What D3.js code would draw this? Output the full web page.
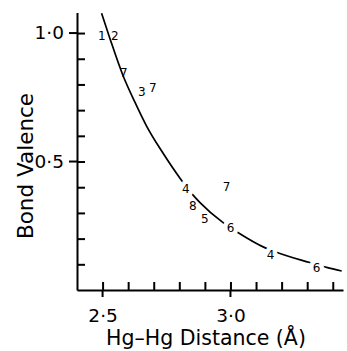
<!DOCTYPE html>
<html>
<head>
<meta charset="utf-8">
<script src="https://cdn.jsdelivr.net/npm/d3@7"></script>
<style>
  body { margin: 0; background: #fff; }
  svg { display: block; }
  text { font-family: "DejaVu Sans", "Liberation Sans", sans-serif; fill: #000; }
  .domain, .tick line, .major { stroke: #000; stroke-width: 2; }
  .curve { fill: none; stroke: #000; stroke-width: 1.7; }
  .pt { font-size: 12px; }
  .pt.cut { stroke: #fff; stroke-width: 9; paint-order: stroke; stroke-linejoin: round; }
</style>
</head>
<body>
<div id="graph"></div>
<script>
const width = 347;
const height = 351;

// curve (distance in Å, bond valence)
const curveR = [2.496, 2.528, 2.579, 2.626, 2.672, 2.736, 2.802, 2.853, 2.880, 2.970, 3.029, 3.134, 3.185, 3.310, 3.376, 3.435];
const curveS = [1.077, 0.981, 0.837, 0.732, 0.638, 0.533, 0.436, 0.370, 0.341, 0.263, 0.224, 0.165, 0.145, 0.107, 0.088, 0.074];

// numbered observations
const ptLabels = ['1', '2', '7', '3', '7', '4', '7', '8', '5', '6', '4', '6'];
const ptR = [2.497, 2.548, 2.583, 2.653, 2.696, 2.825, 2.985, 2.853, 2.900, 3.000, 3.157, 3.337];
const ptS = [0.990, 0.990, 0.845, 0.770, 0.785, 0.395, 0.400, 0.328, 0.277, 0.242, 0.137, 0.086];
const ptOnCurve = [false, false, false, false, false, true, false, false, false, true, true, true];

const xTicks = [2.5, 2.6, 2.7, 2.8, 2.9, 3.0, 3.1, 3.2, 3.3, 3.4];
const xMajor = [2.5, 3.0];
const yTicks = [0.1, 0.2, 0.3, 0.4, 0.5, 0.6, 0.7, 0.8, 0.9, 1.0];
const yMajor = [0.5, 1.0];

const x = d3.scaleLinear().domain([2.4, 3.44]).range([77, 343]);
const y = d3.scaleLinear().domain([0, 1.08]).range([290, 12.5]);

const fmt = d => xMajor.includes(d) || yMajor.includes(d) ? d3.format('.1f')(d).replace('.', '·') : '';

const svg = d3.select('#graph').append('svg').attr('width', width).attr('height', height);

// axes
svg.append('g')
  .attr('transform', translate(0, 290))
  .call(d3.axisBottom(x).tickValues(xTicks).tickSize(-8).tickSizeOuter(0).tickPadding(19).tickFormat(fmt))
  .call(g => g.selectAll('text').attr('font-size', 18.5).attr('dy', '0.71em'));

svg.append('g')
  .attr('transform', translate(77, 0))
  .call(d3.axisLeft(y).tickValues(yTicks).tickSize(-8).tickSizeOuter(0).tickPadding(13).tickFormat(fmt))
  .call(g => g.selectAll('text').attr('font-size', 18.5));

svg.selectAll('.xmaj').data(xMajor).enter().append('line')
  .attr('class', 'major')
  .attr('x1', d => x(d)).attr('x2', d => x(d))
  .attr('y1', 290).attr('y2', 297);

svg.selectAll('.ymaj').data(yMajor).enter().append('line')
  .attr('class', 'major')
  .attr('x1', 69).attr('x2', 77)
  .attr('y1', d => y(d)).attr('y2', d => y(d));

// fitted curve
const line = d3.line()
  .x(i => x(curveR[i]))
  .y(i => y(curveS[i]))
  .curve(d3.curveMonotoneX);

svg.append('path')
  .attr('class', 'curve')
  .attr('d', line(d3.range(curveR.length)));

// numbered points
svg.selectAll('.pt').data(ptLabels).enter().append('text')
  .attr('class', (d, i) => ptOnCurve[i] ? 'pt cut' : 'pt')
  .attr('x', (d, i) => x(ptR[i]))
  .attr('y', (d, i) => y(ptS[i]))
  .attr('text-anchor', 'middle')
  .attr('dy', '0.35em')
  .text(d => d);

// axis titles
svg.append('text')
  .attr('x', 206).attr('y', 345)
  .attr('text-anchor', 'middle')
  .attr('font-size', 20.5)
  .text('Hg–Hg Distance (Å)');

svg.append('text')
  .attr('transform', translate(33, 166) + ' rotate(-90)')
  .attr('text-anchor', 'middle')
  .attr('font-size', 21.5)
  .text('Bond Valence');

function translate(a, b) {
  return 'translate(' + a + ',' + b + ')';
}
</script>
</body>
</html>
